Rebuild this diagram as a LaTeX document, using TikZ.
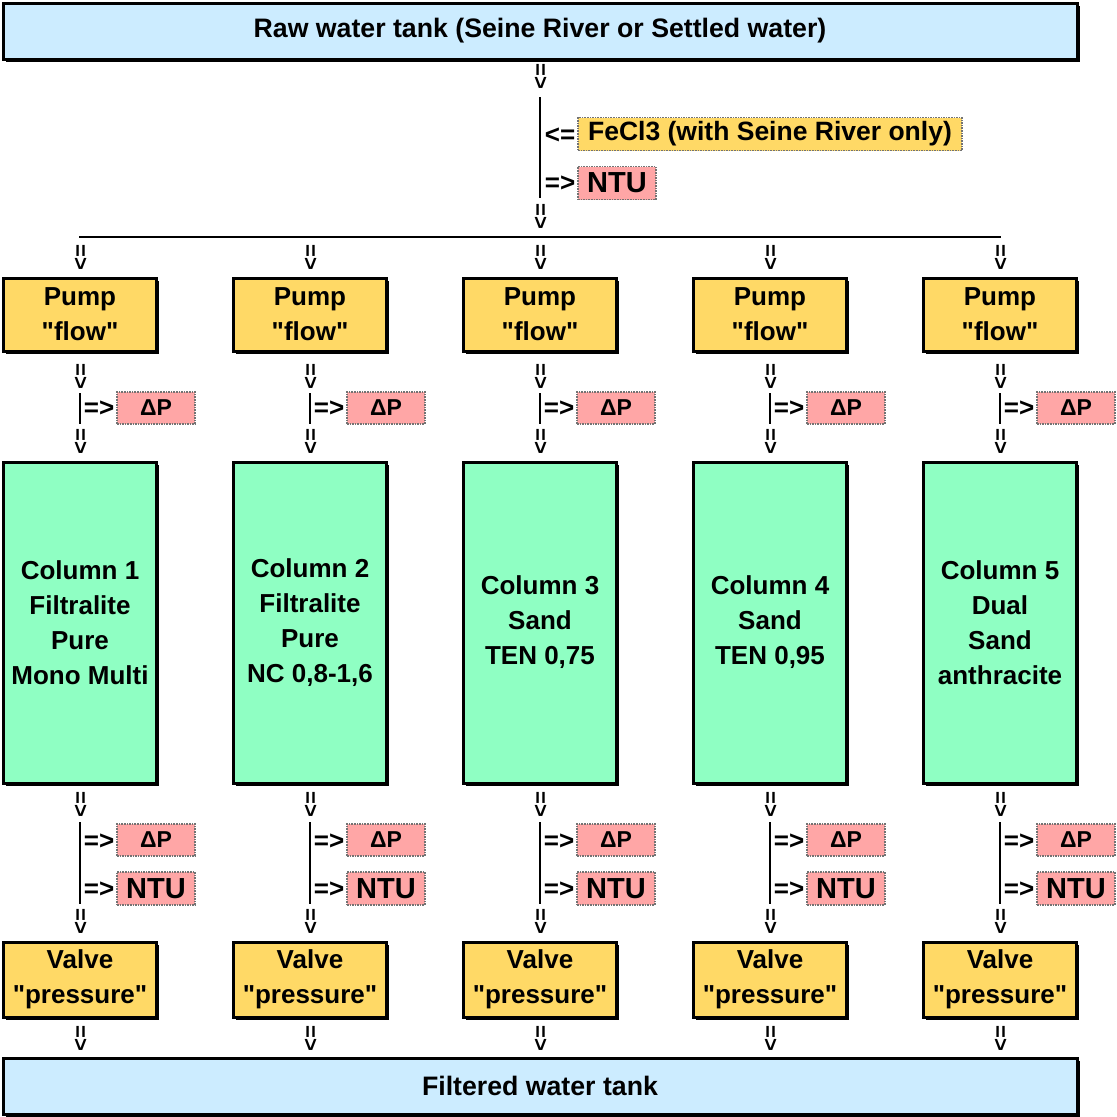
\documentclass[tikz,border=0pt]{standalone}
\usepackage{fontspec}
\setmainfont{Liberation Sans}
\newfontfamily\plainsans{Liberation Sans}
\usetikzlibrary{shadows}
\definecolor{tankblue}{HTML}{CCECFF}
\definecolor{pumpyellow}{HTML}{FFD966}
\definecolor{colgreen}{HTML}{8FFFC3}
\definecolor{sensorpink}{HTML}{FFA6A6}
\newcommand{\qq}{{\plainsans\bfseries\symbol{34}}}
\begin{document}
\begin{tikzpicture}[x=1pt,y=-1pt,
  mainbox/.style={draw=black, line width=3pt, inner sep=0pt, outer sep=0pt, align=center,
    font=\fontsize{26}{35}\selectfont\bfseries,
    drop shadow={shadow xshift=2.5pt, shadow yshift=-2.5pt, fill=black, opacity=1}},
  tank/.style={mainbox, fill=tankblue, minimum width=1074pt, minimum height=56pt,
    font=\fontsize{26.7}{35}\selectfont\bfseries},
  pumpbox/.style={mainbox, fill=pumpyellow, minimum width=153pt, minimum height=73pt},
  valvebox/.style={mainbox, fill=pumpyellow, minimum width=153pt, minimum height=75pt},
  colbox/.style={mainbox, fill=colgreen, minimum width=153pt, minimum height=321pt},
  sensor/.style={draw=black!55, line width=1.6pt, densely dotted, fill=sensorpink, inner sep=0pt,
    minimum width=78pt, minimum height=32pt, font=\fontsize{23}{23}\selectfont\bfseries},
  ntubox/.style={sensor, minimum height=33pt, font=\fontsize{29}{29}\selectfont\bfseries},
  dose/.style={draw=black!55, line width=1.6pt, densely dotted, fill=pumpyellow, inner sep=0pt,
    minimum width=384pt, minimum height=33pt, font=\fontsize{26.5}{26.5}\selectfont\bfseries},
  flowsym/.style={rotate=-90, inner sep=0pt, font=\fontsize{22}{22}\selectfont\bfseries},
  tap/.style={inner sep=0pt, font=\fontsize{26}{26}\selectfont\bfseries},
  pipe/.style={line width=2.5pt, draw=black}]
\useasboundingbox (0,0) rectangle (1117,1117);

\node[tank] (raw) at (540,31) {Raw water tank (Seine River or Settled water)};
\node[tank] (filtered) at (540,1086) {Filtered water tank};

\node[flowsym] (s0) at (540,76) {=>};
\node[flowsym] (s1) at (540,216) {=>};
\coordinate (m0) at (540,97);
\coordinate (m1) at (540,198);
\draw[pipe] (m0) -- (m1);
\node[tap] (feIn) at (560,136) {<=};
\node[dose] (fecl) at (770,134) {FeCl3 (with Seine River only)};
\node[tap] (ntuOut) at (560,184) {=>};
\node[ntubox] (ntu0) at (617,183) {NTU};

\coordinate (hL) at (79,237);
\coordinate (hR) at (1001,237);
\draw[line width=2pt] (hL) -- (hR);

\foreach \i/\x/\txt in {
  1/80/{Column 1\\Filtralite\\Pure\\Mono Multi},
  2/310/{Column 2\\Filtralite\\Pure\\NC 0,8-1,6},
  3/540/{Column 3\\Sand\\TEN 0,75},
  4/770/{Column 4\\Sand\\TEN 0,95},
  5/1000/{Column 5\\Dual\\Sand\\anthracite}} {
  \node[flowsym] (a\i) at (\x,257) {=>};
  \node[pumpbox] (pump\i) at (\x,314.5) {Pump\\\qq flow\qq};
  \node[flowsym] (b\i) at (\x,376) {=>};
  \coordinate (p\i t) at (\x,393);
  \coordinate (p\i b) at (\x,424);
  \draw[pipe] (p\i t) -- (p\i b);
  \node[tap] (t\i) at (\x+19,409) {=>};
  \node[sensor] (dpa\i) at (\x+76,408) {ΔP};
  \node[flowsym] (c\i) at (\x,441) {=>};
  \node[colbox] (col\i) at (\x,622.5) {\txt};
  \node[flowsym] (d\i) at (\x,804) {=>};
  \coordinate (q\i t) at (\x,822);
  \coordinate (q\i b) at (\x,904);
  \draw[pipe] (q\i t) -- (q\i b);
  \node[tap] (u\i) at (\x+19,842) {=>};
  \node[sensor] (dpb\i) at (\x+76,840) {ΔP};
  \node[tap] (v\i) at (\x+19,890) {=>};
  \node[ntubox] (ntu\i) at (\x+76,888.5) {NTU};
  \node[flowsym] (e\i) at (\x,921) {=>};
  \node[valvebox] (valve\i) at (\x,979.5) {Valve\\\qq pressure\qq};
  \node[flowsym] (f\i) at (\x,1038) {=>};
}
\end{tikzpicture}
\end{document}
